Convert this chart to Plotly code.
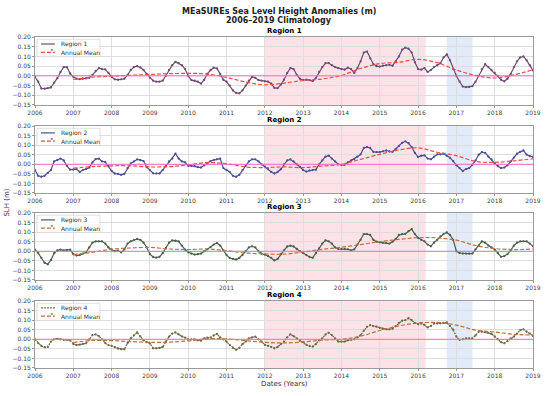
import plotly.graph_objects as go

# ---------------- data ----------------
start_year = 2006
years = list(range(2006, 2020))
year_labels = [str(y) for y in years]
y_ticks = [-0.15, -0.10, -0.05, 0.00, 0.05, 0.10, 0.15, 0.20]

region_names = ["Region 1", "Region 2", "Region 3", "Region 4"]

# monthly anomalies (m), Jan 2006 ... Jan 2019
r1 = [-0.005, -0.03, -0.065, -0.066, -0.063, -0.06, -0.035, -0.012, 0.02, 0.045, 0.045, 0.012,
      -0.005, -0.015, -0.017, -0.015, -0.013, -0.01, 0.005, 0.025, 0.04, 0.035, 0.033, 0.015,
      -0.005, -0.018, -0.02, -0.018, -0.015, 0.005, 0.03, 0.045, 0.05, 0.043, 0.03, 0.01,
      -0.01, -0.025, -0.03, -0.03, -0.025, 0.0, 0.03, 0.055, 0.072, 0.065, 0.055, 0.035,
      0.0, -0.022, -0.025, -0.03, -0.04, -0.02, 0.01, 0.03, 0.042, 0.038, 0.01, -0.02,
      -0.03, -0.05, -0.075, -0.088, -0.09, -0.075, -0.05, -0.025, -0.005, -0.01, -0.022, -0.025,
      -0.028, -0.03, -0.04, -0.062, -0.063, -0.045, -0.02, 0.015, 0.04, 0.035, 0.005, -0.015,
      -0.022, -0.02, -0.022, -0.027, -0.01, 0.02, 0.045, 0.065, 0.066, 0.055, 0.045, 0.04,
      0.035, 0.032, 0.042, 0.035, 0.015, 0.04, 0.075, 0.12, 0.125, 0.09, 0.06, 0.05,
      0.048, 0.052, 0.055, 0.057, 0.052, 0.075, 0.1, 0.135, 0.145, 0.14, 0.12, 0.07,
      0.035, 0.032, 0.04, 0.02, 0.03, 0.045, 0.055, 0.065, 0.095, 0.11, 0.08, 0.035,
      0.0, -0.03, -0.055, -0.058, -0.057, -0.053, -0.03, 0.0, 0.035, 0.06, 0.045, 0.03,
      0.015, 0.0, -0.02, -0.028, -0.015, 0.01, 0.045, 0.075, 0.095, 0.1, 0.08, 0.055,
      0.028]
r2 = [-0.03, -0.06, -0.065, -0.06, -0.045, -0.03, 0.015, 0.022, 0.03, 0.02, -0.008, -0.028,
      -0.028, -0.025, -0.04, -0.03, -0.025, -0.017, 0.01, 0.027, 0.03, 0.015, 0.012, -0.01,
      -0.035, -0.048, -0.05, -0.055, -0.05, -0.02, 0.005, 0.015, 0.026, 0.022, 0.017, -0.015,
      -0.03, -0.047, -0.048, -0.048, -0.03, -0.01, 0.015, 0.03, 0.055, 0.03, 0.015, 0.01,
      -0.008, -0.008, -0.01, -0.015, -0.017, -0.005, 0.005, 0.017, 0.022, 0.026, 0.03, -0.02,
      -0.03, -0.04, -0.06, -0.065, -0.055, -0.03, -0.008, 0.015, 0.026, 0.026, 0.015, 0.0,
      -0.012, -0.025, -0.04, -0.048, -0.04, -0.026, 0.0, 0.02, 0.026, 0.015, 0.0, -0.014,
      -0.03, -0.038, -0.032, -0.03, -0.028, 0.0, 0.02, 0.04, 0.045, 0.03, 0.015, 0.0,
      -0.003, -0.003, 0.01, 0.02, 0.026, 0.04, 0.052, 0.085, 0.09, 0.085, 0.065, 0.064,
      0.064, 0.068, 0.072, 0.068, 0.065, 0.08, 0.095, 0.112, 0.12, 0.11, 0.09, 0.06,
      0.038, 0.045, 0.047, 0.03, 0.026, 0.04, 0.052, 0.052, 0.055, 0.045, 0.034, 0.017,
      -0.005, -0.02, -0.035, -0.025, -0.02, -0.003, 0.02, 0.05, 0.064, 0.06, 0.04, 0.025,
      0.005, -0.01, -0.02, -0.017, -0.005, 0.014, 0.035, 0.055, 0.065, 0.072, 0.05, 0.042,
      0.038]
r3 = [0.009, -0.01, -0.035, -0.06, -0.068, -0.045, -0.01, 0.005, 0.009, 0.005, 0.007, 0.009,
      -0.015, -0.022, -0.02, -0.012, -0.005, 0.02, 0.045, 0.052, 0.052, 0.052, 0.04, 0.02,
      0.009, 0.0, 0.003, -0.005, 0.01, 0.04, 0.052, 0.06, 0.064, 0.06, 0.045, 0.02,
      -0.015, -0.03, -0.033, -0.029, -0.01, 0.017, 0.045, 0.057, 0.055, 0.052, 0.03, 0.009,
      -0.005, -0.012, -0.017, -0.015, -0.012, 0.0, 0.01, 0.022, 0.035, 0.043, 0.03, 0.005,
      -0.02, -0.035, -0.04, -0.043, -0.035, -0.02, 0.0, 0.02, 0.026, 0.02, 0.0, -0.012,
      -0.017, -0.025, -0.035, -0.048, -0.04, -0.015, 0.005, 0.025, 0.029, 0.025, 0.012, 0.0,
      -0.009, -0.02, -0.03, -0.034, -0.01, 0.015, 0.04, 0.057, 0.052, 0.04, 0.02, 0.012,
      0.012, 0.012, 0.01, 0.005, 0.01, 0.034, 0.06, 0.09, 0.09, 0.085, 0.06, 0.05,
      0.047, 0.045, 0.043, 0.04, 0.05, 0.064, 0.085, 0.09, 0.091, 0.105, 0.116, 0.09,
      0.07, 0.06, 0.052, 0.035, 0.026, 0.045, 0.06, 0.078, 0.09, 0.098, 0.085, 0.06,
      0.0, -0.009, -0.012, -0.012, -0.012, -0.012, 0.01, 0.03, 0.052, 0.045, 0.03, 0.02,
      0.009, -0.01, -0.029, -0.025, -0.015, 0.005, 0.029, 0.045, 0.052, 0.052, 0.052, 0.04,
      0.026]
r4 = [0.0, -0.02, -0.035, -0.041, -0.04, -0.012, 0.0, 0.002, 0.0, -0.003, -0.003, -0.005,
      -0.024, -0.03, -0.028, -0.024, -0.021, 0.0, 0.022, 0.026, 0.017, 0.0, -0.02, -0.03,
      -0.034, -0.041, -0.048, -0.052, -0.052, -0.02, 0.005, 0.02, 0.036, 0.015, -0.005, -0.015,
      -0.021, -0.047, -0.047, -0.045, -0.04, -0.012, 0.014, 0.03, 0.036, 0.026, 0.015, 0.009,
      0.0, 0.0, 0.0, -0.005, -0.007, 0.005, 0.008, 0.009, 0.02, 0.028, 0.01, 0.0,
      -0.012, -0.03, -0.045, -0.055, -0.045, -0.025, -0.012, 0.005, 0.01, 0.014, 0.0, -0.012,
      -0.029, -0.034, -0.04, -0.047, -0.04, -0.025, -0.012, 0.01, 0.026, 0.017, 0.005, -0.007,
      -0.015, -0.029, -0.035, -0.038, -0.025, -0.005, 0.005, 0.025, 0.034, 0.022, 0.005, -0.012,
      -0.012, -0.012, -0.005, -0.003, 0.0, 0.01, 0.022, 0.045, 0.065, 0.074, 0.069, 0.066,
      0.06, 0.055, 0.052, 0.052, 0.055, 0.069, 0.085, 0.097, 0.1, 0.11, 0.1, 0.085,
      0.079, 0.083, 0.075, 0.062, 0.07, 0.083, 0.083, 0.083, 0.085, 0.088, 0.07, 0.05,
      0.014, -0.003, 0.0, 0.005, 0.005, 0.005, 0.02, 0.04, 0.04, 0.037, 0.034, 0.028,
      0.015, 0.0, -0.015, -0.021, -0.01, 0.005, 0.014, 0.03, 0.048, 0.052, 0.04, 0.03,
      0.017]

# annual (running) mean, sampled every half year 2007.0 ... 2019.0
mean_times = [2007.0, 2007.5, 2008.0, 2008.5, 2009.0, 2009.5, 2010.0, 2010.5, 2011.0, 2011.5,
              2012.0, 2012.5, 2013.0, 2013.5, 2014.0, 2014.5, 2015.0, 2015.5, 2016.0, 2016.5,
              2017.0, 2017.5, 2018.0, 2018.5, 2019.0]
m1 = [-0.018, -0.007, -0.002, 0.003, 0.007, 0.011, 0.013, 0.009, -0.008, -0.032,
      -0.046, -0.037, -0.024, -0.016, 0.002, 0.038, 0.063, 0.07, 0.085, 0.068,
      0.03, 0.002, -0.011, 0.005, 0.031]
m2 = [-0.02, -0.012, -0.008, -0.008, -0.014, -0.012, -0.003, 0.009, 0.003, -0.014,
      -0.017, -0.014, -0.017, -0.009, 0.0, 0.026, 0.052, 0.075, 0.086, 0.063,
      0.045, 0.015, 0.01, 0.018, 0.029]
m3 = [-0.017, -0.005, 0.011, 0.017, 0.02, 0.012, 0.009, 0.012, 0.003, -0.009,
      -0.014, -0.015, -0.004, 0.01, 0.021, 0.035, 0.05, 0.062, 0.071, 0.07,
      0.058, 0.03, 0.014, 0.009, 0.012]
m4 = [-0.017, -0.006, -0.007, -0.012, -0.016, -0.015, -0.008, 0.002, 0.002, -0.007,
      -0.016, -0.019, -0.014, -0.004, 0.0, 0.016, 0.046, 0.07, 0.085, 0.088,
      0.074, 0.048, 0.038, 0.026, 0.022]

pink_period = [2012.0, 2016.2]
blue_period = [2016.75, 2017.42]

series = [r1, r2, r3, r4]
means = [m1, m2, m3, m4]

# ---------------- styles ----------------
line_colors = ["#6e4c72", "#4a4f8e", "#4b5f4a", "#6f6a45"]
line_dash = ["solid", "solid", "solid", "2px,1px"]
mean_colors = ["#f24a4a", "#f24a4a", "#c4713c", "#b8713e"]
zero_colors = ["#ff66c4", "#ff66c4", "#a58ae6", "#ff66c4"]
domains = [[0.7946, 1.0], [0.5287, 0.7311], [0.2659, 0.4683], [0.0, 0.2024]]

fig = go.Figure()
font_family = "DejaVu Sans"

for i in range(4):
    n = "" if i == 0 else str(i + 1)
    xa, ya = "x" + n, "y" + n
    vals = series[i]
    t = [start_year + k / 12 for k in range(len(vals))]

    fig.add_trace(go.Scatter(
        x=t, y=vals, mode="lines+markers", xaxis=xa, yaxis=ya, showlegend=False,
        line=dict(color=line_colors[i], width=1.2, dash=line_dash[i]),
        marker=dict(size=2.3, color=line_colors[i]), name=region_names[i]))
    fig.add_trace(go.Scatter(
        x=mean_times, y=means[i], mode="lines", xaxis=xa, yaxis=ya, showlegend=False,
        line=dict(color=mean_colors[i], width=1.2, dash="4px,2px", shape="spline"),
        name="Annual Mean"))

    axis_common = dict(showgrid=True, gridcolor="#dedede", gridwidth=0.6,
                       showline=True, linecolor="#9a9a9a", linewidth=0.8, mirror=True,
                       ticks="outside", ticklen=2, tickcolor="#9a9a9a", zeroline=False,
                       automargin=False,
                       tickfont=dict(size=6, color="#444", family=font_family))
    fig.layout["xaxis" + n] = dict(domain=[0, 1], anchor=ya, range=[2006, 2019],
                                   tickvals=years, ticktext=year_labels, **axis_common)
    fig.layout["yaxis" + n] = dict(domain=domains[i], anchor=xa, range=[-0.15, 0.20],
                                   tickvals=y_ticks, tickformat=".2f", **axis_common)

    # shaded periods
    for per, col in ((pink_period, "rgba(250,190,205,0.45)"), (blue_period, "rgba(190,210,245,0.45)")):
        fig.add_shape(type="rect", xref=xa, yref=ya + " domain", x0=per[0], x1=per[1],
                      y0=0, y1=1, fillcolor=col, line_width=0, layer="below")
    # zero line
    fig.add_shape(type="line", xref=xa + " domain", yref=ya, x0=0, x1=1, y0=0, y1=0,
                  line=dict(color=zero_colors[i], width=1))

    # panel title
    fig.add_annotation(text="<b>" + region_names[i] + "</b>", xref=xa + " domain",
                       yref=ya + " domain", x=0.5, y=1, yanchor="bottom", yshift=0,
                       showarrow=False, font=dict(size=7, color="black", family=font_family))

    # legend box (drawn)
    fig.add_shape(type="rect", xref=xa + " domain", yref=ya + " domain",
                  x0=0.004, x1=0.1305, y0=0.71, y1=0.966,
                  fillcolor="rgba(255,255,255,0.8)", line=dict(color="#cccccc", width=0.6))
    fig.add_shape(type="line", xref=xa + " domain", yref=ya + " domain",
                  x0=0.012, x1=0.040, y0=0.897, y1=0.897,
                  line=dict(color=line_colors[i], width=1.2, dash=line_dash[i]))
    fig.add_annotation(text="•", xref=xa + " domain", yref=ya + " domain", x=0.026, y=0.897,
                       showarrow=False, font=dict(size=6, color=line_colors[i]))
    fig.add_shape(type="line", xref=xa + " domain", yref=ya + " domain",
                  x0=0.012, x1=0.040, y0=0.775, y1=0.775,
                  line=dict(color=mean_colors[i], width=1.2, dash="4px,2px"))
    for yy, txt in ((0.897, region_names[i]), (0.775, "Annual Mean")):
        fig.add_annotation(text=txt, xref=xa + " domain", yref=ya + " domain",
                           x=0.048, y=yy, xanchor="left", yanchor="middle", showarrow=False,
                           font=dict(size=6, color="#333", family=font_family))

fig.add_annotation(text="<b>MEaSUREs Sea Level Height Anomalies (m)</b>", xref="paper", yref="paper",
                   x=0.49, y=1.0785, showarrow=False, yanchor="middle",
                   font=dict(size=8, color="#222", family=font_family))
fig.add_annotation(text="<b>2006–2019 Climatology</b>", xref="paper", yref="paper",
                   x=0.49, y=1.051, showarrow=False, yanchor="middle",
                   font=dict(size=8, color="#222", family=font_family))
fig.add_annotation(text="Dates (Years)", xref="paper", yref="paper", x=0.5, y=-0.047,
                   showarrow=False, yanchor="middle",
                   font=dict(size=7, color="#333", family=font_family))
fig.add_annotation(text="SLH (m)", xref="paper", yref="paper", x=-0.058, y=0.5,
                   textangle=-90, showarrow=False, xanchor="center", yanchor="middle",
                   font=dict(size=7, color="#333", family=font_family))

fig.update_layout(width=550, height=396, margin=dict(l=35, r=17, t=37, b=28, autoexpand=False),
                  paper_bgcolor="white", plot_bgcolor="white",
                  font=dict(family=font_family, size=6), showlegend=False)

fig.write_html("out.html", config={"displayModeBar": False},
               post_script="document.body.style.margin='0';")
